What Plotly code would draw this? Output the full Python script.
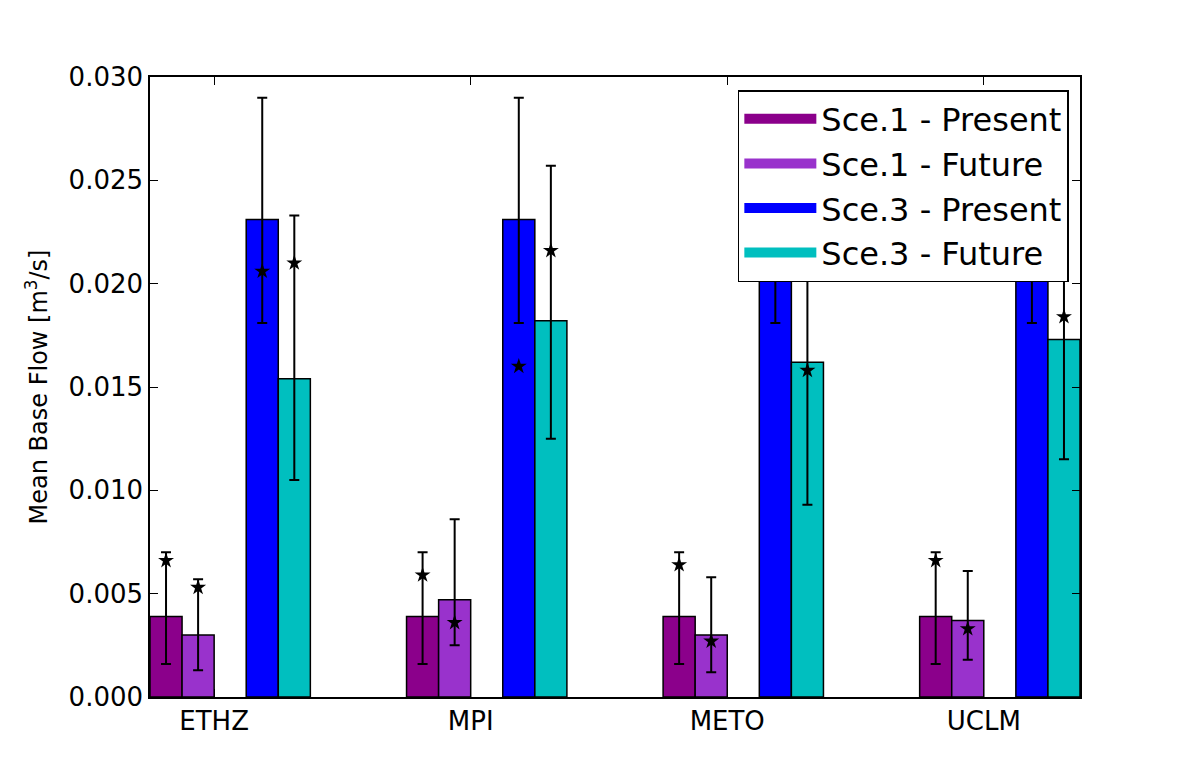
import plotly.graph_objects as go

# mean base flow per climate model [m3/s]
models = ['ETHZ', 'MPI', 'METO', 'UCLM']

s1_present      = [0.0039, 0.0039, 0.0039, 0.0039]
s1_present_hi   = [0.0070, 0.0070, 0.0070, 0.0070]
s1_present_lo   = [0.0016, 0.0016, 0.0016, 0.0016]
s1_present_star = [0.0066, 0.0059, 0.0064, 0.0066]

s1_future       = [0.0030, 0.0047, 0.0030, 0.0037]
s1_future_hi    = [0.0057, 0.0086, 0.0058, 0.0061]
s1_future_lo    = [0.0013, 0.0025, 0.0012, 0.0018]
s1_future_star  = [0.0053, 0.0036, 0.0027, 0.0033]

s3_present      = [0.0231, 0.0231, 0.0231, 0.0231]
s3_present_hi   = [0.0290, 0.0290, 0.0290, 0.0290]
s3_present_lo   = [0.0181, 0.0181, 0.0181, 0.0181]
s3_present_star = [0.0206, 0.0160, 0.0206, 0.0206]

s3_future       = [0.0154, 0.0182, 0.0162, 0.0173]
s3_future_hi    = [0.0233, 0.0257, 0.0235, 0.0240]
s3_future_lo    = [0.0105, 0.0125, 0.0093, 0.0115]
s3_future_star  = [0.0210, 0.0216, 0.0158, 0.0184]

y_ticks = [0.000, 0.005, 0.010, 0.015, 0.020, 0.025, 0.030]

series = [
    ('Sce.1 - Present', s1_present, s1_present_hi, s1_present_lo, s1_present_star, '#8b008b', 0.0625),
    ('Sce.1 - Future',  s1_future,  s1_future_hi,  s1_future_lo,  s1_future_star,  '#9932cc', 0.1875),
    ('Sce.3 - Present', s3_present, s3_present_hi, s3_present_lo, s3_present_star, '#0000ff', 0.4375),
    ('Sce.3 - Future',  s3_future,  s3_future_hi,  s3_future_lo,  s3_future_star,  '#00bfbf', 0.5625),
]

FONT = 'DejaVu Sans'
fig = go.Figure()

for name, vals, hi, lo, star, col, off in series:
    xs = [i + off for i in range(len(models))]
    fig.add_trace(go.Bar(
        x=xs, y=vals, width=0.125, name=name, showlegend=False,
        marker=dict(color=col, line=dict(color='black', width=1.5)),
        error_y=dict(type='data', symmetric=False,
                     array=[h - v for h, v in zip(hi, vals)],
                     arrayminus=[v - l for v, l in zip(vals, lo)],
                     color='black', thickness=2, width=5),
    ))

# stars on top of the bars
for name, vals, hi, lo, star, col, off in series:
    xs = [i + off for i in range(len(models))]
    fig.add_trace(go.Scatter(
        x=xs, y=star, mode='markers', showlegend=False,
        marker=dict(symbol='star', color='black', size=12),
    ))

# legend entries: wide flat swatches like the matplotlib patches
for name, vals, hi, lo, star, col, off in series:
    fig.add_trace(go.Scatter(
        x=[None], y=[None], mode='lines', name=name,
        line=dict(color=col, width=14),
    ))

fig.update_layout(
    width=1200, height=776,
    margin=dict(l=142, r=128, t=69, b=87),
    plot_bgcolor='white', paper_bgcolor='white',
    barmode='overlay',
    font=dict(family=FONT, color='black', size=26),
    legend=dict(x=0.988, y=0.979, xanchor='right', yanchor='top',
                bgcolor='white', bordercolor='black', borderwidth=1.5,
                font=dict(family=FONT, size=32), traceorder='normal',
                itemwidth=72),
)

fig.update_xaxes(
    range=[0, len(models) - 0.375],
    tickvals=[i + 0.25 for i in range(len(models))], ticktext=models,
    showgrid=False, zeroline=False,
    showline=True, linecolor='black', linewidth=1.5, mirror='ticks',
    ticks='inside', ticklen=8, tickcolor='black',
    tickfont=dict(family=FONT, size=26),
)
fig.update_yaxes(
    range=[0, 0.030], tickvals=y_ticks, tickformat='.3f',
    showgrid=False, zeroline=False,
    showline=True, linecolor='black', linewidth=1.5, mirror='ticks',
    ticks='inside', ticklen=8, tickcolor='black',
    tickfont=dict(family=FONT, size=26),
    title=dict(text='Mean Base Flow [m<sup>3</sup>/s]', font=dict(family=FONT, size=24), standoff=14),
)

fig.write_html("out.html")
